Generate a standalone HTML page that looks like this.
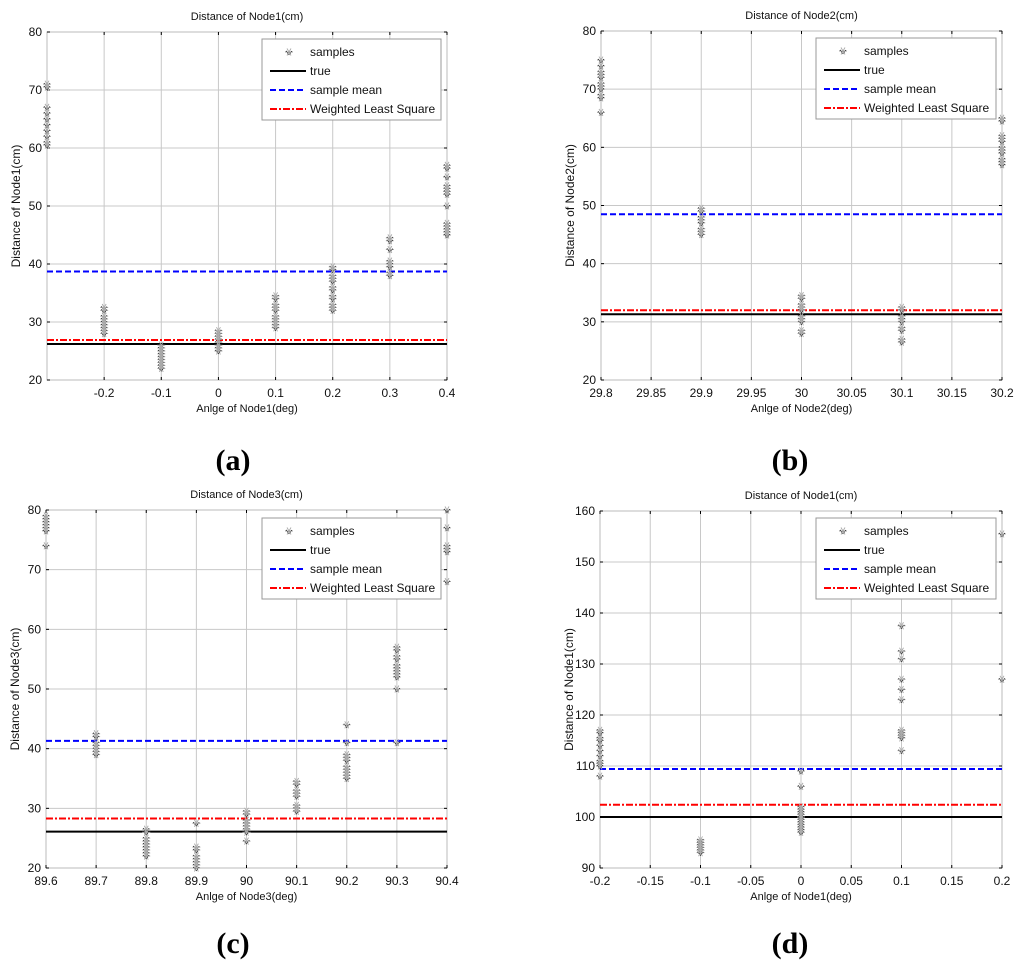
<!DOCTYPE html>
<html><head><meta charset="utf-8"><style>
body{margin:0;background:#fff;}
svg{display:block;font-family:"Liberation Sans",sans-serif;}
.cap{font-family:"Liberation Serif",serif;font-weight:bold;font-size:30px;}
</style></head><body>
<svg id="chart" width="1024" height="976" viewBox="0 0 1024 976" xmlns="http://www.w3.org/2000/svg">
<text class="cap" x="233" y="470" text-anchor="middle">(a)</text>
<text class="cap" x="790" y="470" text-anchor="middle">(b)</text>
<text class="cap" x="233" y="953" text-anchor="middle">(c)</text>
<text class="cap" x="790" y="953" text-anchor="middle">(d)</text>
</svg>
<script>
// Panel (a)
const aCats=[-0.3,-0.2,-0.1,0,0.1,0.2,0.3,0.4];
const aSamples=[[71,70.5,67,66,65,64,63,62,61,60.5],[32.5,32,31,30.5,30,29.5,29,28.5,28],[26,25.5,25,24.5,24,23.5,23,22.5,22],[28.5,28,27.5,27,26.5,26,25.5,25],[34.5,34,33,32.5,32,31,30.5,30,29.5,29],[39.5,39,38,37.5,37,36,35.5,34.5,34,33,32.5,32],[44.5,44,42.5,40.5,40,39.5,38.5,38],[57,56.5,55,53.5,53,52.5,52,50,47,46.5,46,45.5,45]];
const aLines=[26.2,38.7,26.9];
const aXTicks=["-0.2","-0.1","0","0.1","0.2","0.3","0.4"];
const aYTicks=[20,30,40,50,60,70,80];
// Panel (b)
const bCats=[29.8,29.9,30,30.1,30.2];
const bSamples=[[75,74,73,72.5,72,71,70.5,70,69,68.5,66],[49.5,49,48,47.5,47,46,45.5,45],[34.5,34,33,32.5,32,31,30.5,30,28.5,28],[32.5,32,31,30.5,30,29,28.5,27,26.5],[65,64.5,62,61.5,61,60,59.5,59,58,57.5,57]];
const bLines=[31.3,48.5,32.0];
const bXTicks=["29.8","29.85","29.9","29.95","30","30.05","30.1","30.15","30.2"];
const bYTicks=[20,30,40,50,60,70,80];
// Panel (c)
const cCats=[89.6,89.7,89.8,89.9,90,90.1,90.2,90.3,90.4];
const cSamples=[[79,78.5,78,77.5,77,76.5,74],[42.5,42,41,40.5,40,39.5,39],[26.5,26,25,24.5,24,23.5,23,22.5,22],[27.5,23.5,23,22,21.5,21,20.5,20],[29.5,29,28,27.5,27,26.5,26,24.5],[34.5,34,33,32.5,32,30.5,30,29.5],[44,41,39,38.5,38,37,36.5,36,35.5,35],[57,56.5,55.5,55,54,53.5,53,52.5,52,50,41],[80,77,74,73.5,73,68]];
const cLines=[26.1,41.3,28.3];
const cXTicks=["89.6","89.7","89.8","89.9","90","90.1","90.2","90.3","90.4"];
const cYTicks=[20,30,40,50,60,70,80];
// Panel (d)
const dCats=[-0.2,-0.1,0,0.1,0.2];
const dSamples=[[117,116.5,115.5,115,114,113,112,111,110.5,110,108],[95.5,95,94.5,94,93.5,93],[109,106,102,101.5,101,100.5,100,99.5,99,98.5,98,97.5,97],[137.5,132.5,131,127,125,123,117,116.5,116,115.5,113],[155.5,127]];
const dLines=[100,109.4,102.4];
const dXTicks=["-0.2","-0.15","-0.1","-0.05","0","0.05","0.1","0.15","0.2"];
const dYTicks=[90,100,110,120,130,140,150,160];

const NS="http://www.w3.org/2000/svg";
const svg=document.getElementById('chart');
function mk(tag,attrs,parent,text){const e=document.createElementNS(NS,tag);for(const k in attrs)e.setAttribute(k,attrs[k]);if(text!==undefined)e.textContent=text;(parent||svg).appendChild(e);return e;}

function marker(x,y,parent){
  const m=mk('g',{},parent);
  
  
  mk('path',{d:`M${x-4} ${y}L${x+4} ${y}M${x-2} ${y-3.5}L${x+2} ${y+3.5}M${x+2} ${y-3.5}L${x-2} ${y+3.5}`,fill:'none',stroke:'#aaa','stroke-width':0.9},m);
  mk('path',{d:`M${x-3} ${y-1}L${x} ${y+2.5}L${x+3} ${y-1}`,fill:'none',stroke:'#222','stroke-width':1,'stroke-dasharray':'1 1'},m);
}

function panel(id,box,xr,yr,xTicks,yTicks,cats,samples,lines,title,ylab,xlab,leg){
  const g=mk('g',{});
  
  
  const X=v=>box.l+(v-xr[0])/(xr[1]-xr[0])*(box.r-box.l);
  const Y=v=>box.b-(v-yr[0])/(yr[1]-yr[0])*(box.b-box.t);
  const xv=xTicks.map(Number);
  xv.forEach(v=>{const l=mk('line',{x1:X(v),x2:X(v),y1:box.t,y2:box.b,stroke:'#c8c8c8','stroke-width':1},g);
    
    });
  yTicks.forEach(v=>{const l=mk('line',{x1:box.l,x2:box.r,y1:Y(v),y2:Y(v),stroke:'#c8c8c8','stroke-width':1},g);
    
    });
  mk('rect',{x:box.l,y:box.t,width:box.r-box.l,height:box.b-box.t,fill:'none',stroke:'#bbb','stroke-width':1},g);
  xv.forEach(v=>{mk('line',{x1:X(v),x2:X(v),y1:box.b,y2:box.b-3,stroke:'#000','stroke-width':1},g);mk('line',{x1:X(v),x2:X(v),y1:box.t,y2:box.t+3,stroke:'#000','stroke-width':1},g);});
  yTicks.forEach(v=>{mk('line',{x1:box.l,x2:box.l+3,y1:Y(v),y2:Y(v),stroke:'#000','stroke-width':1},g);mk('line',{x1:box.r,x2:box.r-3,y1:Y(v),y2:Y(v),stroke:'#000','stroke-width':1},g);});
  xTicks.forEach((t,i)=>{const e=mk('text',{x:X(xv[i]),y:box.b+17,'font-size':12,'text-anchor':'middle',fill:'#111'},g,t);
    
    });
  yTicks.forEach(v=>{const e=mk('text',{x:box.l-5,y:Y(v)+4,'font-size':12,'text-anchor':'end',fill:'#111'},g,String(v));
    
    });
  let e=mk('text',{x:(box.l+box.r)/2,y:box.t-12,'font-size':11,'text-anchor':'middle',fill:'#111'},g,title);
  
  
  e=mk('text',{x:(box.l+box.r)/2,y:box.b+32,'font-size':11,'text-anchor':'middle',fill:'#111'},g,xlab);
  
  
  const yc=(box.t+box.b)/2, yx=box.l-27;
  e=mk('text',{x:yx,y:yc,'font-size':12,'text-anchor':'middle',fill:'#111',transform:`rotate(-90 ${yx} ${yc})`},g,ylab);
  
  
  const styles=[{s:'#000',d:'',n:'true-line'},{s:'#0000ff',d:'6 3',n:'sample-mean-line'},{s:'#ff0000',d:'7 2 2 2',n:'wls-line'}];
  lines.forEach((v,i)=>{const l=mk('line',{x1:box.l,x2:box.r,y1:Y(v),y2:Y(v),stroke:styles[i].s,'stroke-width':2,'stroke-dasharray':styles[i].d},g);
    
    });
  cats.forEach((c,i)=>samples[i].forEach(v=>marker(X(c),Y(v),g)));
  const lg=mk('g',{},g);
  
  
  mk('rect',{x:leg.x,y:leg.y,width:leg.w,height:81,fill:'#fff',stroke:'#999','stroke-width':1},lg);
  const labs=['samples','true','sample mean','Weighted Least Square'];
  labs.forEach((t,i)=>{const yy=leg.y+13+i*19;
    const te=mk('text',{x:leg.x+48,y:yy+4,'font-size':12,fill:'#111'},lg,t);
    
    
    if(i===0)marker(leg.x+27,yy,lg);
    else mk('line',{x1:leg.x+8,x2:leg.x+44,y1:yy,y2:yy,stroke:styles[i-1].s,'stroke-width':2,'stroke-dasharray':styles[i-1].d},lg);
  });
}

panel('a',{l:47,r:447,t:32,b:380},[-0.3,0.4],[20,80],aXTicks,aYTicks,aCats,aSamples,aLines,'Distance of Node1(cm)','Distance of Node1(cm)','Anlge of Node1(deg)',{x:262,y:39,w:179});
panel('b',{l:601,r:1002,t:31,b:380},[29.8,30.2],[20,80],bXTicks,bYTicks,bCats,bSamples,bLines,'Distance of Node2(cm)','Distance of Node2(cm)','Anlge of Node2(deg)',{x:816,y:38,w:180});
panel('c',{l:46,r:447,t:510,b:868},[89.6,90.4],[20,80],cXTicks,cYTicks,cCats,cSamples,cLines,'Distance of Node3(cm)','Distance of Node3(cm)','Anlge of Node3(deg)',{x:262,y:518,w:179});
panel('d',{l:600,r:1002,t:511,b:868},[-0.2,0.2],[90,160],dXTicks,dYTicks,dCats,dSamples,dLines,'Distance of Node1(cm)','Distance of Node1(cm)','Anlge of Node1(deg)',{x:816,y:518,w:180});
</script>
</body></html>
